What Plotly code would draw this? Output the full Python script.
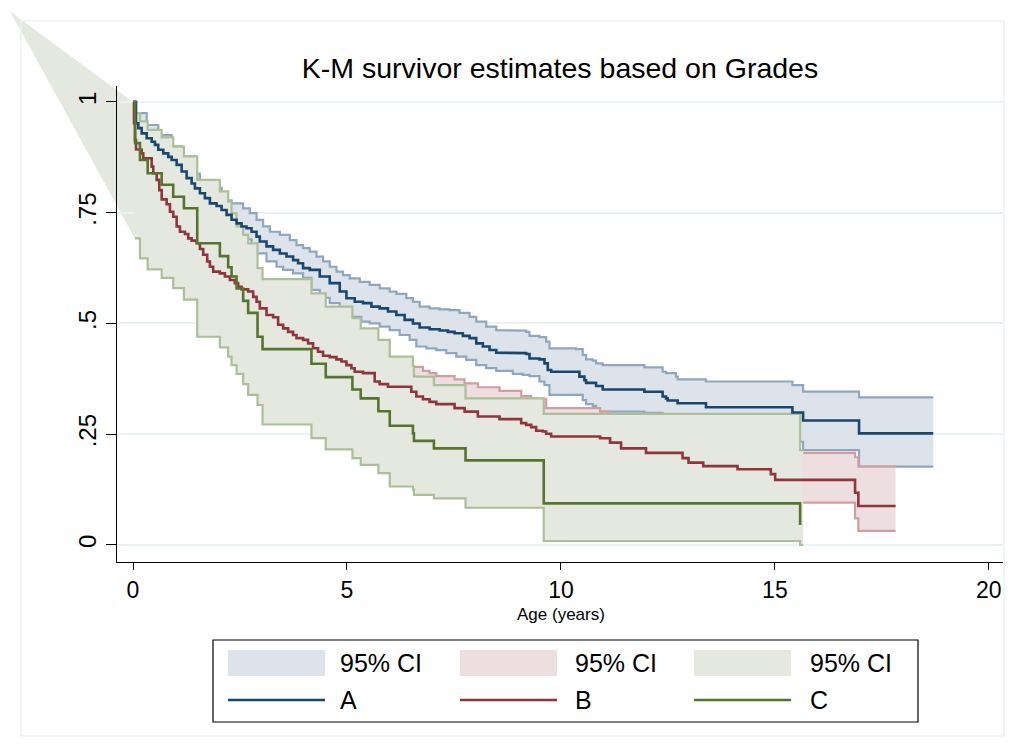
import plotly.graph_objects as go

# ---------------- data ----------------
# Group A (blue): step times (years) and survivor estimate after each step
A_time = [0.070, 0.124, 0.203, 0.320, 0.436, 0.513, 0.590, 0.707, 0.824, 0.903,
          1.020, 1.137, 1.253, 1.370, 1.447, 1.564, 1.680, 1.797, 1.953, 2.070,
          2.187, 2.303, 2.420, 2.537, 2.653, 2.770, 2.887, 2.964, 3.120, 3.274,
          3.431, 3.587, 3.741, 3.858, 3.974, 4.131, 4.364, 4.597, 4.831, 4.987,
          5.181, 5.375, 5.571, 5.764, 5.958, 6.154, 6.348, 6.541, 6.698, 6.931,
          7.165, 7.358, 7.515, 7.708, 7.865, 8.021, 8.175, 8.331, 8.488, 8.798,
          9.188, 9.265, 9.498, 9.615, 9.692, 9.771, 10.432, 10.548, 10.588, 10.821,
          10.976, 11.949, 12.376, 12.455, 12.493, 12.726, 13.389, 15.409, 15.659, 16.966]
A_surv = [0.952, 0.941, 0.929, 0.918, 0.910, 0.903, 0.892, 0.884, 0.876, 0.869,
          0.858, 0.843, 0.828, 0.816, 0.805, 0.794, 0.783, 0.771, 0.765, 0.756,
          0.745, 0.734, 0.726, 0.719, 0.715, 0.707, 0.696, 0.685, 0.674, 0.666,
          0.658, 0.651, 0.643, 0.636, 0.625, 0.621, 0.606, 0.591, 0.572, 0.557,
          0.549, 0.546, 0.538, 0.534, 0.527, 0.519, 0.508, 0.500, 0.491, 0.487,
          0.484, 0.481, 0.478, 0.472, 0.467, 0.455, 0.448, 0.440, 0.434, 0.433,
          0.431, 0.421, 0.419, 0.410, 0.395, 0.391, 0.380, 0.372, 0.366, 0.359,
          0.351, 0.346, 0.335, 0.331, 0.326, 0.320, 0.311, 0.299, 0.281, 0.252]
A_end = 18.70

A_up_time = [0.070, 0.320, 0.590, 0.903, 1.137, 1.447, 1.564, 1.797, 2.070, 2.187,
             2.303, 2.574, 2.730, 2.887, 3.041, 3.197, 3.431, 3.664, 3.820, 3.974,
             4.131, 4.287, 4.441, 4.597, 4.754, 4.908, 5.064, 5.298, 5.531, 5.764,
             5.998, 6.154, 6.387, 6.541, 6.698, 6.931, 7.165, 7.398, 7.631, 7.865,
             8.021, 8.254, 8.488, 8.642, 9.188, 9.265, 9.498, 9.655, 9.732, 10.355,
             10.509, 10.588, 10.742, 10.821, 10.976, 11.949, 12.376, 12.455, 12.688, 12.726,
             13.389, 15.409, 15.659, 16.966]
A_up = [0.975, 0.948, 0.925, 0.900, 0.877, 0.838, 0.822, 0.806, 0.789, 0.778,
        0.771, 0.760, 0.749, 0.734, 0.719, 0.707, 0.700, 0.688, 0.677, 0.670,
        0.662, 0.651, 0.640, 0.628, 0.617, 0.609, 0.602, 0.594, 0.587, 0.579,
        0.572, 0.567, 0.557, 0.549, 0.538, 0.534, 0.532, 0.530, 0.524, 0.515,
        0.504, 0.493, 0.485, 0.484, 0.481, 0.472, 0.469, 0.459, 0.444, 0.442,
        0.429, 0.419, 0.416, 0.410, 0.406, 0.401, 0.391, 0.388, 0.380, 0.374,
        0.369, 0.361, 0.346, 0.333]

A_lo_time = [0.070, 0.320, 0.590, 0.903, 1.137, 1.447, 1.680, 1.953, 2.187, 2.537,
             2.770, 2.887, 3.120, 3.354, 3.508, 3.741, 3.974, 4.170, 4.364, 4.597,
             4.831, 5.064, 5.337, 5.531, 5.764, 5.998, 6.231, 6.465, 6.621, 6.854,
             7.087, 7.321, 7.554, 7.788, 8.021, 8.254, 8.488, 8.875, 9.109, 9.265,
             9.498, 9.615, 9.732, 10.509, 10.588, 10.742, 10.821, 10.898, 11.949, 12.376,
             12.726, 13.389, 15.409, 15.659, 16.966]
A_lo = [0.925, 0.890, 0.862, 0.840, 0.810, 0.775, 0.753, 0.735, 0.718, 0.690,
        0.675, 0.658, 0.640, 0.628, 0.621, 0.613, 0.603, 0.576, 0.558, 0.546,
        0.528, 0.515, 0.504, 0.500, 0.493, 0.485, 0.474, 0.463, 0.448, 0.444,
        0.440, 0.433, 0.425, 0.418, 0.406, 0.399, 0.393, 0.386, 0.384, 0.381,
        0.369, 0.361, 0.339, 0.327, 0.318, 0.314, 0.305, 0.301, 0.298, 0.287,
        0.273, 0.260, 0.233, 0.214, 0.177]

# Group B (red)
B_time = [0.023, 0.047, 0.070, 0.124, 0.203, 0.240, 0.436, 0.474, 0.553, 0.614,
          0.670, 0.786, 0.863, 0.940, 1.020, 1.097, 1.214, 1.291, 1.370, 1.487,
          1.564, 1.641, 1.734, 1.797, 1.874, 2.030, 2.147, 2.264, 2.380, 2.457,
          2.537, 2.691, 2.808, 2.887, 2.964, 3.120, 3.274, 3.391, 3.508, 3.624,
          3.741, 3.820, 3.974, 4.091, 4.208, 4.324, 4.441, 4.597, 4.754, 4.871,
          4.987, 5.104, 5.181, 5.375, 5.648, 5.764, 5.958, 6.504, 6.621, 6.775,
          6.931, 7.087, 7.515, 7.748, 8.058, 8.565, 9.071, 9.188, 9.304, 9.421,
          9.575, 9.655, 9.771, 10.915, 11.148, 11.405, 11.988, 12.842, 12.982, 13.326,
          14.126, 14.905, 15.006, 16.873, 16.950]
B_surv = [0.952, 0.914, 0.893, 0.892, 0.884, 0.873, 0.854, 0.839, 0.824, 0.801,
          0.780, 0.769, 0.752, 0.741, 0.719, 0.707, 0.702, 0.692, 0.687, 0.681,
          0.668, 0.655, 0.640, 0.628, 0.617, 0.613, 0.606, 0.598, 0.591, 0.583,
          0.577, 0.572, 0.560, 0.549, 0.534, 0.519, 0.514, 0.497, 0.489, 0.481,
          0.474, 0.467, 0.463, 0.455, 0.444, 0.436, 0.427, 0.424, 0.419, 0.414,
          0.406, 0.399, 0.391, 0.388, 0.369, 0.363, 0.357, 0.346, 0.335, 0.329,
          0.323, 0.318, 0.309, 0.301, 0.290, 0.284, 0.275, 0.271, 0.266, 0.258,
          0.256, 0.251, 0.245, 0.241, 0.231, 0.218, 0.208, 0.196, 0.186, 0.178,
          0.171, 0.160, 0.147, 0.118, 0.088]
B_end = 17.82

B_up_time = [0.047, 0.203, 0.474, 0.670, 0.940, 1.214, 1.564, 1.874, 2.264, 2.691,
             2.964, 3.391, 3.820, 4.208, 4.597, 5.104, 5.648, 5.958, 6.504, 6.775,
             6.931, 7.087, 7.515, 7.748, 8.058, 8.565, 9.071, 9.304, 9.655, 10.915,
             11.148, 11.405, 11.988, 12.842, 12.982, 13.326, 14.126, 14.905, 15.006, 16.873,
             16.950]
B_up = [0.955, 0.925, 0.880, 0.835, 0.795, 0.758, 0.720, 0.672, 0.645, 0.618,
        0.585, 0.550, 0.520, 0.495, 0.474, 0.450, 0.418, 0.410, 0.402, 0.393,
        0.388, 0.381, 0.374, 0.365, 0.356, 0.348, 0.336, 0.330, 0.309, 0.301,
        0.292, 0.282, 0.272, 0.260, 0.250, 0.243, 0.236, 0.225, 0.208, 0.198,
        0.177]

B_lo_time = [0.047, 0.203, 0.474, 0.670, 0.940, 1.214, 1.564, 1.874, 2.264, 2.691,
             2.964, 3.391, 3.820, 4.208, 4.597, 5.104, 5.648, 6.504, 7.087, 7.748,
             8.565, 9.304, 9.771, 11.148, 11.988, 12.982, 14.126, 15.006, 16.873, 16.950]
B_lo = [0.860, 0.835, 0.790, 0.730, 0.690, 0.650, 0.615, 0.565, 0.548, 0.520,
        0.485, 0.450, 0.420, 0.395, 0.375, 0.352, 0.322, 0.298, 0.275, 0.255,
        0.240, 0.222, 0.205, 0.190, 0.170, 0.150, 0.135, 0.0955, 0.060, 0.032]

# Group C (green)
C_time = [0.047, 0.163, 0.343, 0.670, 0.940, 1.190, 1.501, 2.030, 2.224, 2.303,
          2.420, 2.574, 2.691, 2.910, 3.027, 4.170, 4.504, 5.127, 5.321, 5.734,
          6.000, 6.541, 6.565, 7.031, 7.771, 9.598, 15.589]
C_surv = [0.907, 0.869, 0.839, 0.813, 0.786, 0.760, 0.681, 0.652, 0.627, 0.606,
          0.579, 0.551, 0.524, 0.470, 0.442, 0.409, 0.379, 0.351, 0.331, 0.302,
          0.269, 0.252, 0.235, 0.218, 0.191, 0.094, 0.045]
C_up = [0.975, 0.956, 0.937, 0.920, 0.899, 0.877, 0.824, 0.798, 0.775, 0.749,
        0.719, 0.700, 0.681, 0.625, 0.600, 0.568, 0.538, 0.512, 0.489, 0.463,
        0.425, 0.404, 0.380, 0.361, 0.331, 0.296, 0.214]
C_lo = [0.692, 0.647, 0.622, 0.603, 0.580, 0.554, 0.470, 0.446, 0.425, 0.406,
        0.386, 0.363, 0.339, 0.316, 0.272, 0.241, 0.216, 0.196, 0.181, 0.162,
        0.132, 0.125, 0.113, 0.105, 0.084, 0.009, 0.000]
C_ci_end = 15.66
# apex of the stray CI polygon drawn by the original software (data units)
C_ci_stray = (-2.87, 1.204)

X_TICKS = [0, 5, 10, 15, 20]
Y_TICKS = [0, 0.25, 0.5, 0.75, 1]
Y_TICKTEXT = ["0", ".25", ".5", ".75", "1"]
LEGEND_LABELS = ["95% CI", "95% CI", "95% CI", "A", "B", "C"]
TITLE = "K-M survivor estimates based on Grades"
X_TITLE = "Age (years)"

# ---------------- style ----------------
W, H = 1019, 752
ML, MR, MT, MB = 117, 16, 86, 190
X_RANGE = [-0.374, 20.33]
Y_RANGE = [-0.0384, 1.036]

LINE_COL = {"A": "#1a476f", "B": "#90353b", "C": "#55752f"}
FILL_COL = {"A": "#dde3eb", "B": "#eddfe0", "C": "#e5e8df"}
EDGE_COL = {"A": "#8fa6bf", "B": "#d09da1", "C": "#abbf98"}
GRID_COL = "#eaf2f3"
FONT = "Liberation Sans, Arial, sans-serif"

PW = W - ML - MR
PH = H - MT - MB


def px_paper(px, py):
    return (px - ML) / PW, (H - MB - py) / PH


def data_paper(x, y):
    return ((x - X_RANGE[0]) / (X_RANGE[1] - X_RANGE[0]),
            (y - Y_RANGE[0]) / (Y_RANGE[1] - Y_RANGE[0]))


def steps(times, values, t_end=None, start=(0.0, 1.0)):
    if start is None:
        xs, ys = [times[0]], [values[0]]
        prev = values[0]
        pairs = list(zip(times[1:], values[1:]))
    else:
        xs, ys = [start[0]], [start[1]]
        prev = start[1]
        pairs = list(zip(times, values))
    for t, v in pairs:
        xs += [t, t]
        ys += [prev, v]
        prev = v
    if t_end is not None:
        xs.append(t_end)
        ys.append(prev)
    return xs, ys


fig = go.Figure()


def add_ci(key, ut, uv, lt, lv, t_end):
    ux, uy = steps(ut, uv, t_end)
    lx, ly = steps(lt, lv, t_end)
    fig.add_trace(go.Scatter(x=ux + lx[::-1], y=uy + ly[::-1], mode="lines",
                             fill="toself", fillcolor=FILL_COL[key],
                             line=dict(width=0), hoverinfo="skip"))
    fig.add_trace(go.Scatter(x=ux, y=uy, mode="lines",
                             line=dict(color=EDGE_COL[key], width=2.2), hoverinfo="skip"))
    lx2, ly2 = steps(lt, lv, t_end, start=None)
    fig.add_trace(go.Scatter(x=lx2, y=ly2, mode="lines",
                             line=dict(color=EDGE_COL[key], width=2.2), hoverinfo="skip"))


add_ci("A", A_up_time, A_up, A_lo_time, A_lo, A_end)
add_ci("B", B_up_time, B_up, B_lo_time, B_lo, B_end)
add_ci("C", C_time, C_up, C_time, C_lo, C_ci_end)

for key, t, s, te in [("A", A_time, A_surv, A_end), ("B", B_time, B_surv, B_end),
                      ("C", C_time, C_surv, None)]:
    x, y = steps(t, s, te)
    fig.add_trace(go.Scatter(x=x, y=y, mode="lines", name=key,
                             line=dict(color=LINE_COL[key], width=2.6), hoverinfo="skip"))

shapes = []
# stray polygon of the C confidence band
ax_, ay_ = data_paper(*C_ci_stray)
bx_, by_ = data_paper(0.0, 1.0)
b2x, b2y = data_paper(C_time[0], 1.0)
cx_, cy_ = data_paper(C_time[0], C_lo[0])
shapes.append(dict(type="path", xref="paper", yref="paper", layer="below",
                   path=f"M {ax_},{ay_} L {bx_},{by_} L {b2x},{b2y} L {cx_},{cy_} Z",
                   fillcolor=FILL_COL["C"], line=dict(width=0)))
# faint outer frame
fx0, fy0 = px_paper(21, 21)
fx1, fy1 = px_paper(1004, 736)
shapes.append(dict(type="rect", xref="paper", yref="paper", layer="below",
                   x0=fx0, y0=fy1, x1=fx1, y1=fy0,
                   line=dict(color="#edf2f4", width=1.5)))

# manual legend
lx0, ly0 = px_paper(213, 640)
lx1, ly1 = px_paper(918, 722)
shapes.append(dict(type="rect", xref="paper", yref="paper", x0=lx0, y0=ly1, x1=lx1, y1=ly0,
                   line=dict(color="black", width=1.2), fillcolor="white"))
col_sw = [(228, 325), (460, 557), (694, 791)]
col_tx = [338, 573, 808]
annotations = []
for i, key in enumerate(["A", "B", "C"]):
    sx0, sy0 = px_paper(col_sw[i][0], 650)
    sx1, sy1 = px_paper(col_sw[i][1], 676)
    shapes.append(dict(type="rect", xref="paper", yref="paper", x0=sx0, y0=sy1, x1=sx1, y1=sy0,
                       fillcolor=FILL_COL[key], line=dict(width=0)))
    qx0, qy = px_paper(col_sw[i][0], 700)
    qx1, _ = px_paper(col_sw[i][1], 700)
    shapes.append(dict(type="line", xref="paper", yref="paper", x0=qx0, y0=qy, x1=qx1, y1=qy,
                       line=dict(color=LINE_COL[key], width=2.6)))
    tx, ty1 = px_paper(col_tx[i], 663)
    _, ty2 = px_paper(col_tx[i], 700)
    annotations.append(dict(xref="paper", yref="paper", x=tx, y=ty1, text=LEGEND_LABELS[i],
                            showarrow=False, xanchor="left", yanchor="middle",
                            font=dict(family=FONT, size=25, color="black")))
    annotations.append(dict(xref="paper", yref="paper", x=tx, y=ty2, text=LEGEND_LABELS[3 + i],
                            showarrow=False, xanchor="left", yanchor="middle",
                            font=dict(family=FONT, size=25, color="black")))

axx, axy = px_paper(561, 614)
annotations.append(dict(xref="paper", yref="paper", x=axx, y=axy, text=X_TITLE, showarrow=False,
                        xanchor="center", yanchor="middle",
                        font=dict(family=FONT, size=17, color="black")))

fig.update_layout(
    width=W, height=H,
    margin=dict(l=ML, r=MR, t=MT, b=MB),
    paper_bgcolor="white", plot_bgcolor="rgba(0,0,0,0)",
    showlegend=False, hovermode=False,
    title=dict(text=TITLE, x=0.5, xref="paper", xanchor="center",
               y=1 - 68 / H, yref="container", yanchor="middle",
               font=dict(family=FONT, size=28.5, color="black")),
    xaxis=dict(range=X_RANGE, tickvals=X_TICKS, ticks="outside", ticklen=7, tickwidth=1,
               tickcolor="black", showline=True, linecolor="black", linewidth=1,
               showgrid=False, zeroline=False,
               tickfont=dict(family=FONT, size=23, color="black")),
    yaxis=dict(range=Y_RANGE, tickvals=Y_TICKS, ticktext=Y_TICKTEXT, tickangle=-90,
               ticks="outside", ticklen=10, tickwidth=1, tickcolor="black",
               showline=True, linecolor="black", linewidth=1,
               showgrid=True, gridcolor=GRID_COL, gridwidth=2, zeroline=False,
               tickfont=dict(family=FONT, size=24, color="black")),
    shapes=shapes, annotations=annotations,
)

fig.write_html("out.html", config={"displayModeBar": False},
               post_script="document.body.style.margin='0';document.body.style.padding='0';")
